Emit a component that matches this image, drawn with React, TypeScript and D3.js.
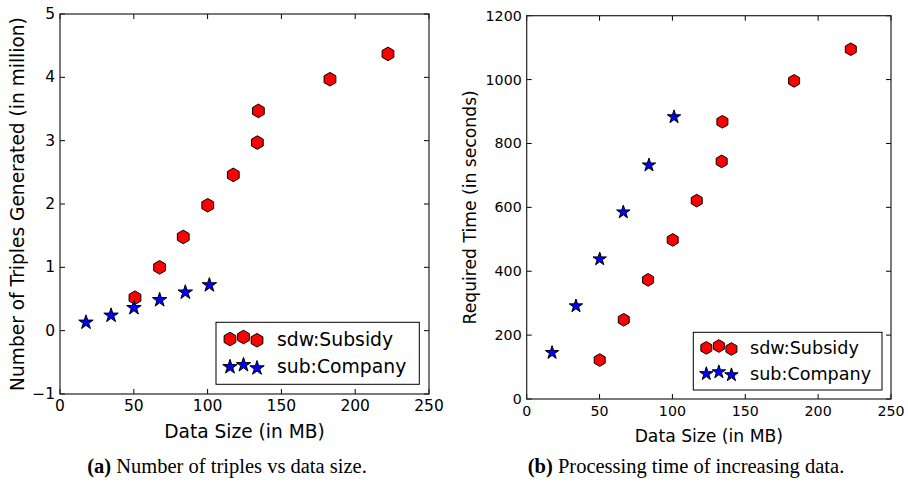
import React from 'react';
import { scaleLinear, range, format } from 'd3';

// Panel (a): triples generated (in million)
const subsidySizesA = [50.8, 67.5, 83.5, 100.1, 117.4, 133.7, 134.4, 182.9, 222.2];
const subsidyTriples = [0.52, 1.0, 1.48, 1.98, 2.46, 2.97, 3.47, 3.97, 4.37];
const companySizesA = [17.6, 34.6, 50.1, 67.5, 84.9, 101.2];
const companyTriples = [0.13, 0.24, 0.36, 0.485, 0.605, 0.72];

// Panel (b): required time (in seconds)
const subsidySizesB = [50.1, 66.6, 83.3, 100.2, 116.7, 133.8, 134.3, 183.5, 222.4];
const subsidyTimes = [122, 248, 373, 498, 621, 744, 868, 996, 1095];
const companySizesB = [17.4, 33.8, 50.1, 66.3, 83.9, 101.1];
const companyTimes = [145, 291, 438, 585, 732, 883];

const xTicks = [0, 50, 100, 150, 200, 250];
const yTicksA = [-1, 0, 1, 2, 3, 4, 5];
const yTicksB = [0, 200, 400, 600, 800, 1000, 1200];

const seriesNames = ['sdw:Subsidy', 'sub:Company'];
// vertical jitter of the three legend markers, in px
const legendYOffsets = [0, -2, 1.2];

const RED = '#ff0000';
const BLUE = '#0000ff';
const sans = '"DejaVu Sans", sans-serif';
const serif = '"Liberation Serif", "DejaVu Serif", serif';

const polygonPath = (cx: number, cy: number, pts: Array<[number, number]>) =>
  'M' + pts.map(([dx, dy]) => `${(cx + dx).toFixed(2)},${(cy + dy).toFixed(2)}`).join('L') + 'Z';

const hexagon = (cx: number, cy: number, r: number) =>
  polygonPath(
    cx,
    cy,
    range(6).map((i) => {
      const a = -Math.PI / 2 + (i * Math.PI) / 3;
      return [r * Math.cos(a), r * Math.sin(a)] as [number, number];
    }),
  );

const star = (cx: number, cy: number, r: number) =>
  polygonPath(
    cx,
    cy,
    range(10).map((i) => {
      const a = -Math.PI / 2 + (i * Math.PI) / 5;
      const rr = i % 2 === 0 ? r : r * 0.381966;
      return [rr * Math.cos(a), rr * Math.sin(a)] as [number, number];
    }),
  );

interface PanelProps {
  left: number;
  right: number;
  top: number;
  bottom: number;
  yDomain: [number, number];
  yTicks: number[];
  redX: number[];
  redY: number[];
  blueX: number[];
  blueY: number[];
  yLabel: string;
  yLabelX: number;
  tickFont: number;
  labelFont: number;
  legendFont: number;
  legend: { x: number; y: number; w: number; h: number };
  mk: number;
  caption: [string, string];
  captionX: number;
}

const Panel: React.FC<PanelProps> = (p) => {
  const x = scaleLinear().domain([0, 250]).range([p.left, p.right]);
  const y = scaleLinear().domain(p.yDomain).range([p.bottom, p.top]);
  const fmt = format('d');
  const tl = 5;
  const hexR = 6.8 * p.mk;
  const starR = 7.6 * p.mk;
  const lg = p.legend;
  const rowY = [lg.y + lg.h * 0.27, lg.y + lg.h * 0.72];
  const mxs = [lg.x + 14 * p.mk, lg.x + 27.5 * p.mk, lg.x + 41 * p.mk];
  const textX = lg.x + 61 * p.mk;
  const midY = (p.top + p.bottom) / 2;

  return (
    <g>
      {/* ticks, inward on all four sides */}
      {xTicks.map((t) => (
        <g key={'xt' + t}>
          <line x1={x(t)} x2={x(t)} y1={p.bottom} y2={p.bottom - tl} stroke="#000" strokeWidth={1} />
          <line x1={x(t)} x2={x(t)} y1={p.top} y2={p.top + tl} stroke="#000" strokeWidth={1} />
          <text x={x(t)} y={p.bottom + 12} fontSize={p.tickFont} fontFamily={sans} textAnchor="middle" dominantBaseline="central">
            {fmt(t)}
          </text>
        </g>
      ))}
      {p.yTicks.map((t) => (
        <g key={'yt' + t}>
          <line x1={p.left} x2={p.left + tl} y1={y(t)} y2={y(t)} stroke="#000" strokeWidth={1} />
          <line x1={p.right} x2={p.right - tl} y1={y(t)} y2={y(t)} stroke="#000" strokeWidth={1} />
          <text x={p.left - 5} y={y(t)} fontSize={p.tickFont} fontFamily={sans} textAnchor="end" dominantBaseline="central">
            {fmt(t)}
          </text>
        </g>
      ))}
      <rect x={p.left} y={p.top} width={p.right - p.left} height={p.bottom - p.top} fill="none" stroke="#222" strokeWidth={1.2} />

      {/* marks */}
      {p.redX.map((d, i) => (
        <path key={'r' + i} d={hexagon(x(d), y(p.redY[i]), hexR)} fill={RED} stroke="#000" strokeWidth={1} />
      ))}
      {p.blueX.map((d, i) => (
        <path key={'b' + i} d={star(x(d), y(p.blueY[i]), starR)} fill={BLUE} stroke="#000" strokeWidth={1} />
      ))}

      {/* axis labels */}
      <text x={(p.left + p.right) / 2} y={p.bottom + 37} fontSize={p.labelFont} fontFamily={sans} textAnchor="middle" dominantBaseline="central">
        Data Size (in MB)
      </text>
      <text
        transform={`translate(${p.yLabelX},${midY}) rotate(-90)`}
        fontSize={p.labelFont}
        fontFamily={sans}
        textAnchor="middle"
        dominantBaseline="central"
      >
        {p.yLabel}
      </text>

      {/* legend */}
      <rect x={lg.x} y={lg.y} width={lg.w} height={lg.h} fill="#fff" stroke="#000" strokeWidth={1} />
      {mxs.map((mx, i) => (
        <g key={'lg' + i}>
          <path d={hexagon(mx, rowY[0] + legendYOffsets[i] * p.mk, hexR)} fill={RED} stroke="#000" strokeWidth={1} />
          <path d={star(mx, rowY[1] + legendYOffsets[i] * p.mk, starR)} fill={BLUE} stroke="#000" strokeWidth={1} />
        </g>
      ))}
      {seriesNames.map((s, i) => (
        <text key={s} x={textX} y={rowY[i]} fontSize={p.legendFont} fontFamily={sans} dominantBaseline="central">
          {s}
        </text>
      ))}

      {/* caption */}
      <text x={p.captionX} y={466} fontSize={20.5} fontFamily={serif} textAnchor="middle" dominantBaseline="central">
        <tspan fontWeight="bold">{p.caption[0]}</tspan>
        {p.caption[1]}
      </text>
    </g>
  );
};

export default function App() {
  return (
    <svg
      width={908}
      height={488}
      style={{ position: 'absolute', left: 0, top: 0, background: '#fff' }}
    >
      <Panel
        left={60}
        right={429}
        top={14}
        bottom={394}
        yDomain={[-1, 5]}
        yTicks={yTicksA}
        redX={subsidySizesA}
        redY={subsidyTriples}
        blueX={companySizesA}
        blueY={companyTriples}
        yLabel="Number of Triples Generated (in million)"
        yLabelX={17}
        tickFont={15.5}
        labelFont={18.6}
        legendFont={18.8}
        legend={{ x: 216, y: 322.3, w: 203.3, h: 62 }}
        mk={1}
        caption={['(a)', ' Number of triples vs data size.']}
        captionX={227}
      />
      <Panel
        left={526.7}
        right={891}
        top={15.7}
        bottom={399}
        yDomain={[0, 1200]}
        yTicks={yTicksB}
        redX={subsidySizesB}
        redY={subsidyTimes}
        blueX={companySizesB}
        blueY={companyTimes}
        yLabel="Required Time (in seconds)"
        yLabelX={470}
        tickFont={14.2}
        labelFont={17.2}
        legendFont={17.6}
        legend={{ x: 693.3, y: 332.3, w: 188.7, h: 57.7 }}
        mk={0.93}
        caption={['(b)', ' Processing time of increasing data.']}
        captionX={686}
      />
    </svg>
  );
}
